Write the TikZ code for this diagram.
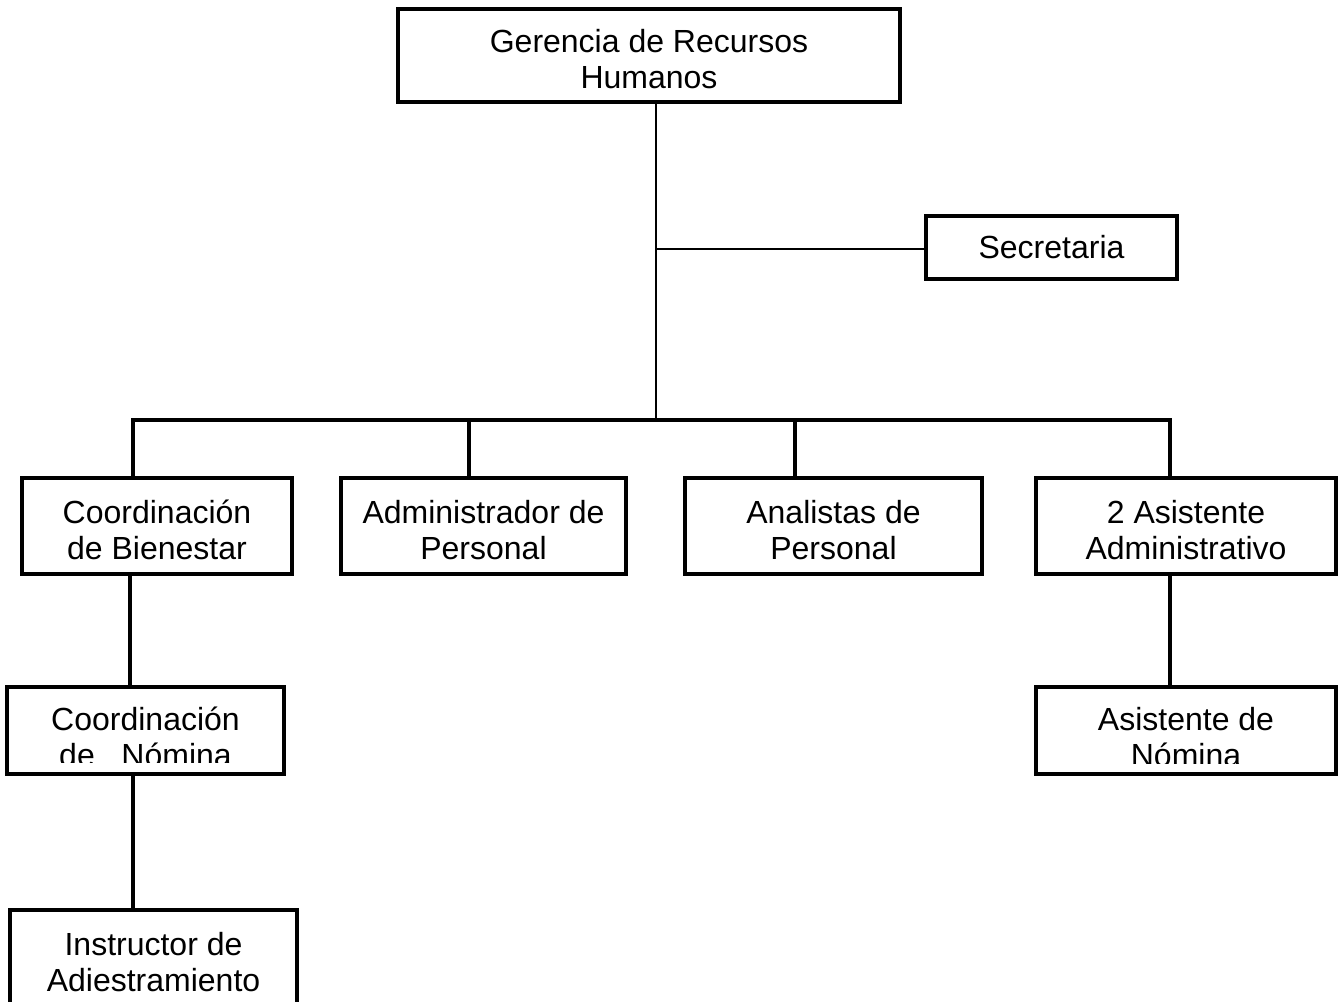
\documentclass[tikz,border=0pt]{standalone}
\usepackage{fontspec}
\setmainfont{Liberation Sans}
\begin{document}
\begin{tikzpicture}[x=0.75pt,y=-0.75pt,
  orgbox/.style 2 args={draw, line width=3pt, minimum width={#1*0.75pt}, minimum height={#2*0.75pt}, inner sep=0pt, align=center, font=\orgfont},
  twoline/.style={text height=49.5pt, text depth=0pt},
  cliptext/.style={align=center, font=\orgfont, inner sep=0pt, text height=49.5pt, text depth=0pt},
  thinline/.style={line width=1.1pt},
  thickline/.style={line width=3pt}]
\newcommand{\orgfont}{\fontsize{24}{27}\selectfont}
\useasboundingbox (0,0) rectangle (1338,1002);
\clip (0,0) rectangle (1338,1002);
% top
\node[orgbox={502}{93}, twoline] (ger) at (649,56) {Gerencia de Recursos\\Humanos};
\node[orgbox={251}{63}] (sec) at (1051.5,247.5) {Secretaria};
% row 2
\node[orgbox={270}{96}, twoline] (bien) at (157,526) {Coordinación\\de Bienestar};
\node[orgbox={285}{96}, twoline] (adm) at (483.5,526) {Administrador de\\Personal};
\node[orgbox={297}{96}, twoline] (ana) at (833.5,526) {Analistas de\\Personal};
\node[orgbox={300}{96}, twoline] (asis) at (1186,526) {2 Asistente\\Administrativo};
% row 3
\node[orgbox={277}{87}] (cnom) at (145.5,730.5) {};
\node[orgbox={300}{87}] (anom) at (1186,730.5) {};
\begin{scope}
  \clip (7,689) rectangle (284,762);
  \node[cliptext] (cnomt) at (145.5,733) {Coordinación\\de\ \ \ Nómina};
\end{scope}
\begin{scope}
  \clip (1036,689) rectangle (1336,763);
  \node[cliptext] (anomt) at (1186,733) {Asistente de\\Nómina};
\end{scope}
% row 4
\node[orgbox={287}{96}, twoline] (ins) at (153.5,958) {Instructor de\\Adiestramiento};
% connectors
\coordinate (bus) at (656,420);
\draw[thinline] (ger.south -| 656,0) -- (bus);
\draw[thinline] (656,249) -- (sec.west |- 0,249);
\draw[thickline] (bien.north -| 133,0) -- (133,420) -- (1170,420) -- (asis.north -| 1170,0);
\draw[thickline] (469,420) -- (adm.north -| 469,0);
\draw[thickline] (795,420) -- (ana.north -| 795,0);
\draw[thickline] (bien.south -| 130,0) -- (cnom.north -| 130,0);
\draw[thickline] (cnom.south -| 133,0) -- (ins.north -| 133,0);
\draw[thickline] (asis.south -| 1170,0) -- (anom.north -| 1170,0);
\end{tikzpicture}
\end{document}
